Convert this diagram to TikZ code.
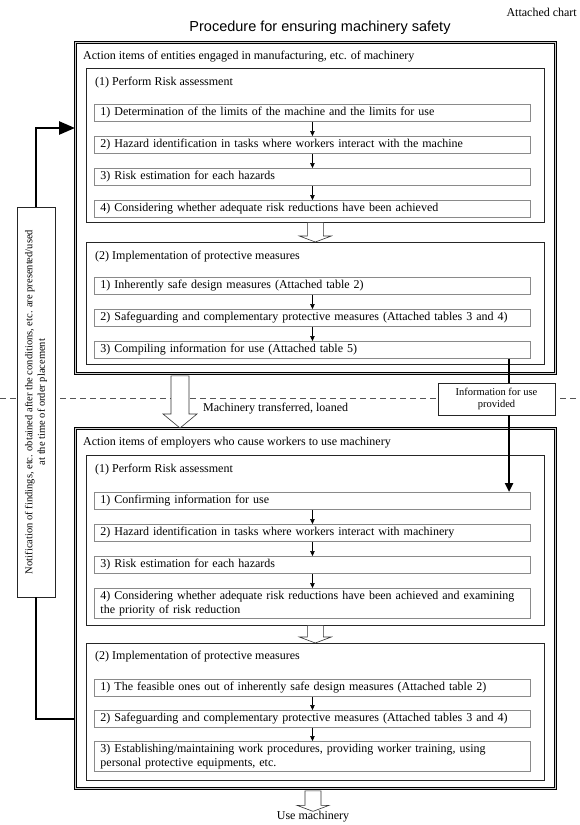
\documentclass[tikz,border=0pt]{standalone}
\usepackage{fontspec}
\setmainfont{Liberation Serif}
\newfontfamily\titlefont{Liberation Sans}
\usetikzlibrary{arrows.meta,positioning,calc}
\definecolor{BoxGray}{HTML}{8A8A8A}
\definecolor{RuleGray}{HTML}{555555}
\newcommand{\hollowdown}[5]{%
  \draw[hollowarr] let \p1=(#1), \p2=(#2) in
    (\x1-#3,\y1) -- (\x1+#3,\y1) -- (\x1+#3,\y2+#5) -- (\x1+#4,\y2+#5)
    -- (\x1,\y2) -- (\x1-#4,\y2+#5) -- (\x1-#3,\y2+#5) -- cycle;}

\begin{document}
\begin{tikzpicture}[x=1pt, y=-1pt,
  outerbox/.style={draw, line width=0.8pt, double=black!20, double distance=1.6pt, anchor=north west, inner sep=0pt, minimum width=480},
  panel/.style={draw=black!85, line width=0.6pt, anchor=north west, inner sep=0pt, minimum width=458},
  stepbox/.style={draw=BoxGray, line width=0.9pt, anchor=north west, text width=424pt, inner xsep=6pt, inner ysep=1pt, minimum height=17, align=left, font=\fontsize{12}{13.5}\selectfont},
  headtext/.style={anchor=west, inner sep=0pt, font=\fontsize{12}{14}\selectfont},
  infobox/.style={draw=black!85, line width=0.6pt, fill=white, minimum width=117, minimum height=32, inner sep=1pt, align=center, font=\fontsize{10.5}{12.5}\selectfont},
  notebox/.style={draw=black!85, line width=0.6pt, fill=white, minimum width=390, minimum height=38, inner sep=1pt, align=center, font=\fontsize{10.5}{12.5}\selectfont},
  steparr/.style={-{Triangle[length=5pt,width=4.5pt]}, line width=0.6pt},
  hollowarr/.style={draw=black!80, line width=0.6pt, fill=white},
  thickline/.style={line width=2.6pt},
  dashline/.style={draw=RuleGray, line width=0.7pt, dash pattern=on 6pt off 4pt}
]
\useasboundingbox (0,0) rectangle (580,825);
\coordinate (dashL) at (0,398);
\coordinate (dashR) at (580,398);
\draw[dashline] (dashL) -- (dashR);

\node[headtext, anchor=east] (chart) at (577,12) {Attached chart};
\node[font=\titlefont\fontsize{14.5}{17}\selectfont, inner sep=0pt] (title) at (320,28) {Procedure for ensuring machinery safety};

\node[outerbox, minimum height=331] (maker) at (75,42) {};
\node[headtext] (makerhead) at (83,57) {Action items of entities engaged in manufacturing, etc. of machinery};
\node[panel, minimum height=154] (makerra) at (86,68) {};
\node[headtext] (makerrahead) at (95,83) {(1) Perform Risk assessment};
\node[stepbox] (ma1) at (94,104) {1) Determination of the limits of the machine and the limits for use};
\node[stepbox] (ma2) at (94,136) {2) Hazard identification in tasks where workers interact with the machine};
\node[stepbox] (ma3) at (94,168) {3) Risk estimation for each hazards};
\node[stepbox] (ma4) at (94,200) {4) Considering whether adequate risk reductions have been achieved};
\node[panel, minimum height=122] (makerpm) at (86,242) {};
\node[headtext] (makerpmhead) at (95,257) {(2) Implementation of protective measures};
\node[stepbox] (mb1) at (94,277) {1) Inherently safe design measures (Attached table 2)};
\node[stepbox] (mb2) at (94,309) {2) Safeguarding and complementary protective measures (Attached tables 3 and 4)};
\node[stepbox] (mb3) at (94,341) {3) Compiling information for use (Attached table 5)};

\node[outerbox, minimum height=360] (user) at (75,428) {};
\node[headtext] (userhead) at (83,443) {Action items of employers who cause workers to use machinery};
\node[panel, minimum height=170] (userra) at (86,455) {};
\node[headtext] (userrahead) at (95,470) {(1) Perform Risk assessment};
\node[stepbox] (ua1) at (94,492) {1) Confirming information for use};
\node[stepbox] (ua2) at (94,524) {2) Hazard identification in tasks where workers interact with machinery};
\node[stepbox] (ua3) at (94,556) {3) Risk estimation for each hazards};
\node[stepbox, minimum height=30] (ua4) at (94,588) {4) Considering whether adequate risk reductions have been achieved and examining\\the priority of risk reduction};
\node[panel, minimum height=137] (userpm) at (86,643) {};
\node[headtext] (userpmhead) at (95,657) {(2) Implementation of protective measures};
\node[stepbox] (ub1) at (94,679) {1) The feasible ones out of inherently safe design measures (Attached table 2)};
\node[stepbox] (ub2) at (94,710) {2) Safeguarding and complementary protective measures (Attached tables 3 and 4)};
\node[stepbox, minimum height=30] (ub3) at (94,741) {3) Establishing/maintaining work procedures, providing worker training, using\\personal protective equipments, etc.};

\node[infobox] (info) at (496.5,399) {Information for use\\provided};
\node[notebox, rotate=90] (notice) at (36,402) {Notification of findings, etc. obtained after the conditions, etc. are presented/used\\at the time of order placement};
\node[headtext] (xfertext) at (203,409) {Machinery transferred, loaned};
\node[headtext, anchor=center] (usemach) at (313,817) {Use machinery};

\foreach \a/\b in {ma1/ma2, ma2/ma3, ma3/ma4, mb1/mb2, mb2/mb3, ua1/ua2, ua2/ua3, ua3/ua4, ub1/ub2, ub2/ub3}
  \draw[steparr] (\a) -- (\b);

\coordinate (xfer) at (180,0);
\coordinate (infoline) at (509,0);
\coordinate (backA) at (0,128);
\coordinate (backB) at (0,719);

\draw[thickline] (mb3.south -| infoline) -- (info.north -| infoline);
\draw[thickline, -{Triangle[length=9pt,width=8pt]}] (info.south -| infoline) -- (ua1.north -| infoline);
\draw[thickline] (user.west |- backB) -| (notice.west);
\draw[thickline, -{Triangle[length=16pt,width=13pt]}] (notice.east) |- (maker.west |- backA);

\hollowdown{makerra.south}{makerpm.north}{8pt}{16pt}{6pt}
\hollowdown{userra.south}{userpm.north}{8pt}{16pt}{6pt}
\hollowdown{[yshift=-2pt]user.south -| usemach}{usemach.north}{8pt}{16pt}{6pt}
\hollowdown{[yshift=-2pt]maker.south -| xfer}{user.north -| xfer}{9pt}{17pt}{14pt}
\end{tikzpicture}
\end{document}
